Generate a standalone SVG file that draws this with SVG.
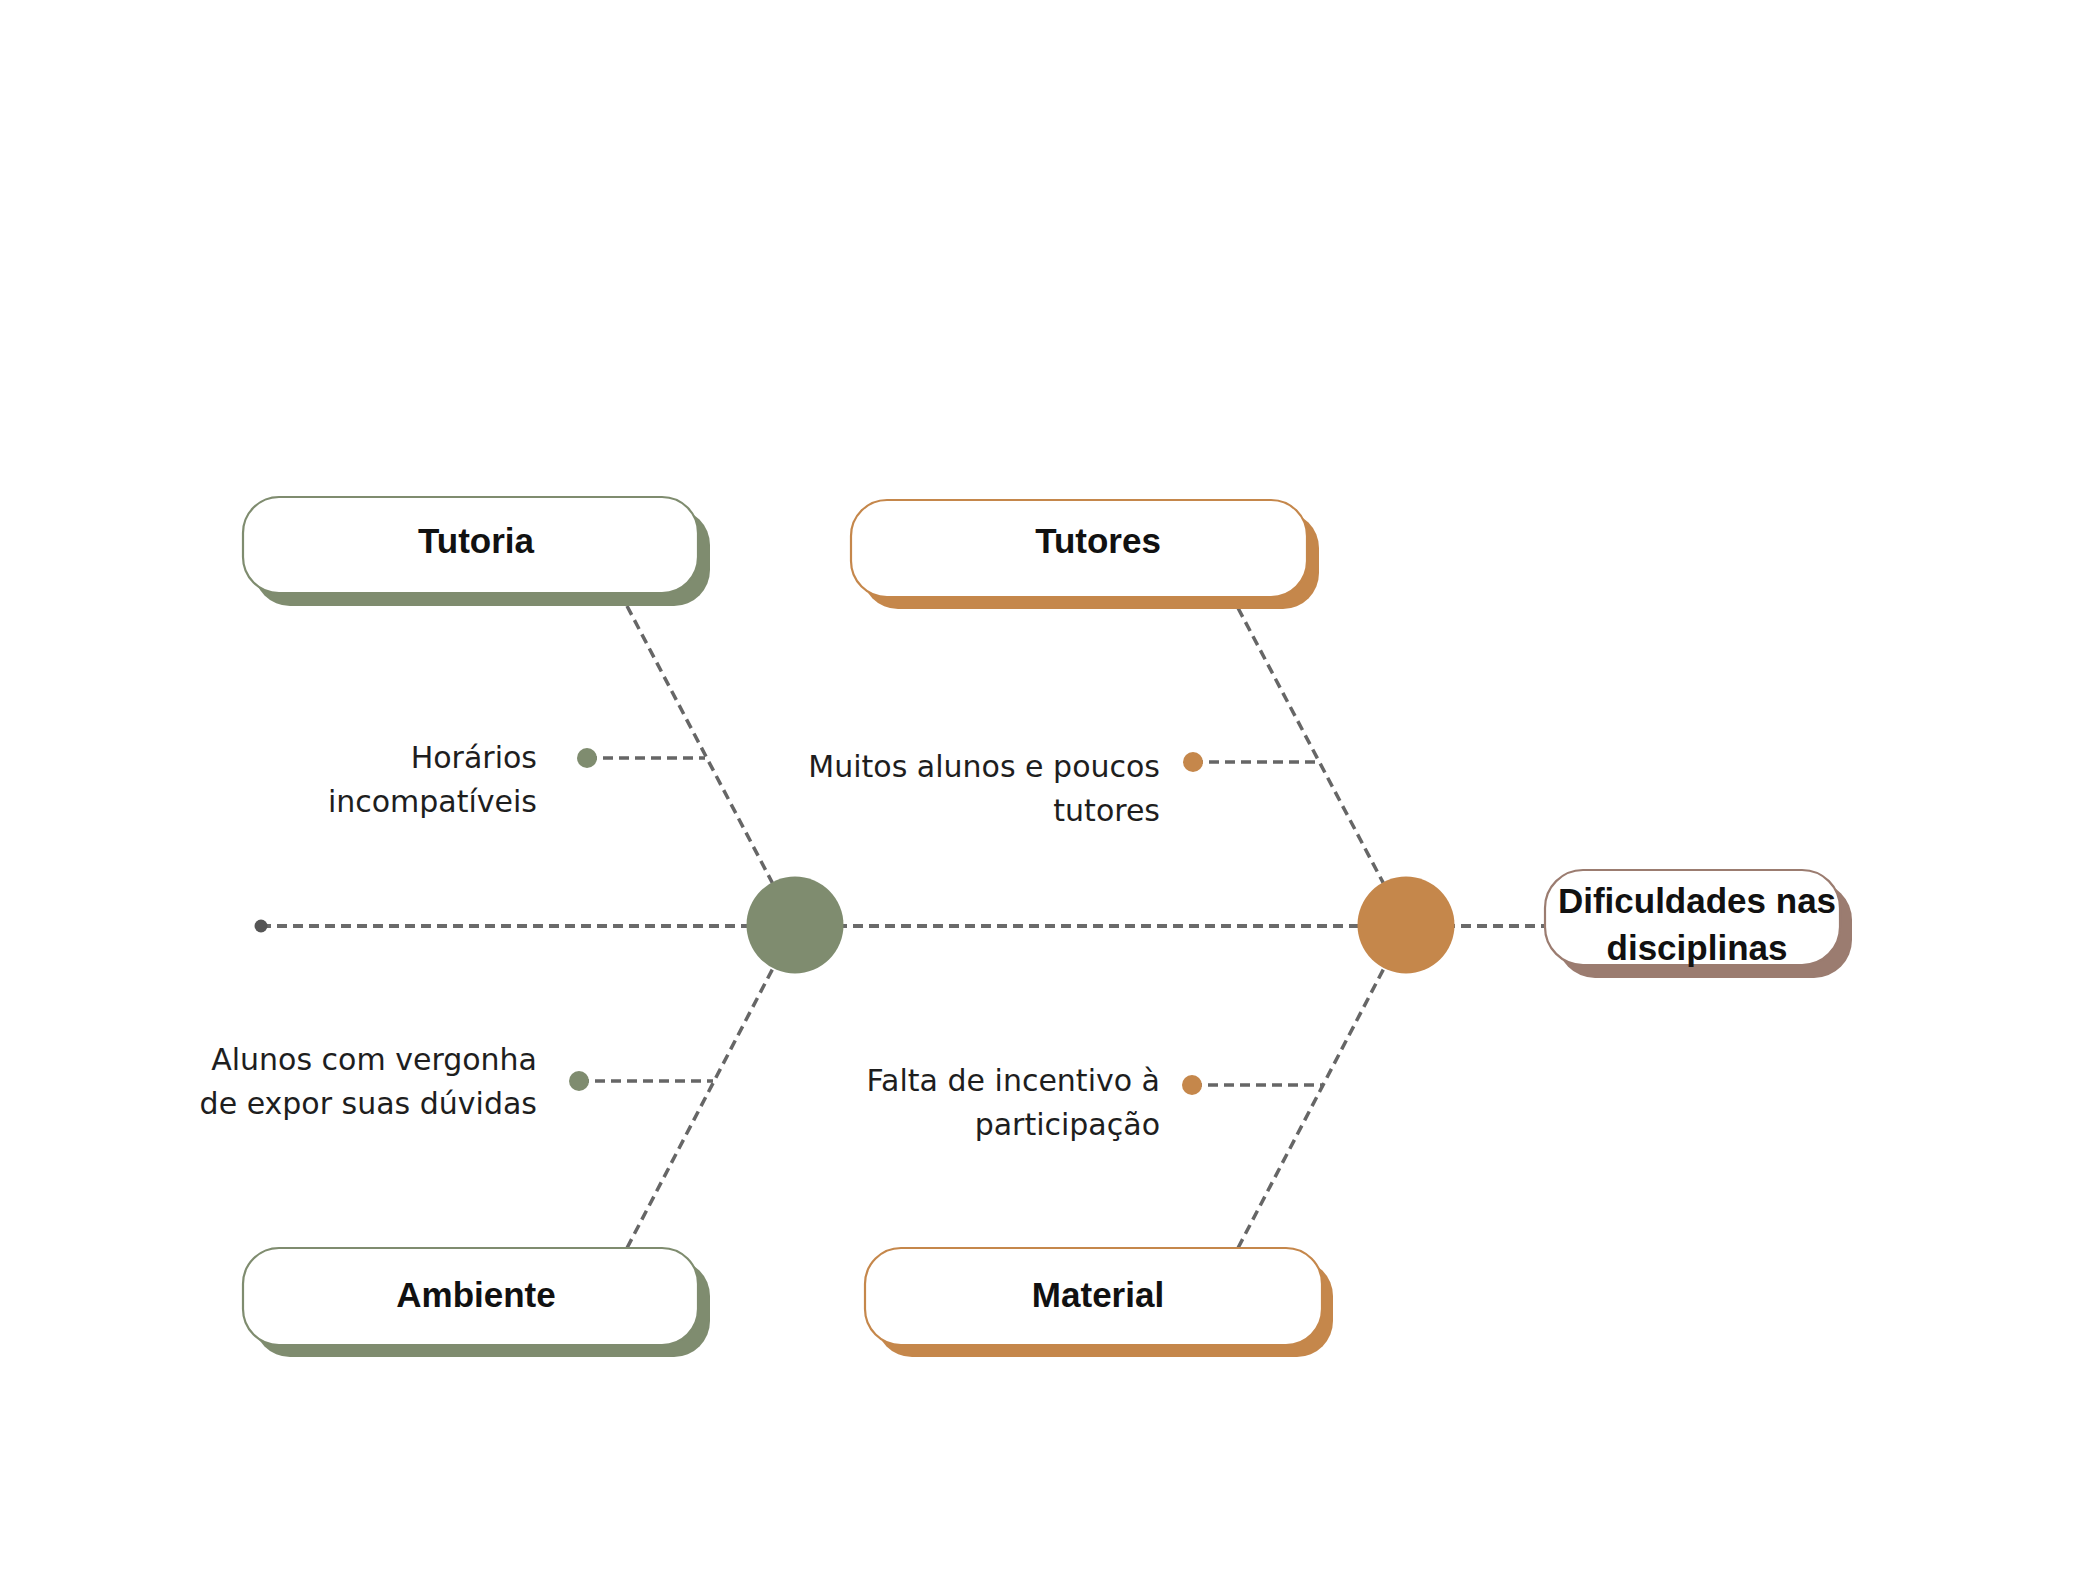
<svg xmlns="http://www.w3.org/2000/svg" width="2088" height="1576" viewBox="0 0 2088 1576">
<style>
.dash{stroke:#666666;stroke-width:3.5;stroke-dasharray:10 6;fill:none}
.spine{stroke:#6a6a6a;stroke-width:4;stroke-dasharray:10 6;fill:none}
.title{font-family:"Liberation Sans",Arial,sans-serif;font-weight:bold;font-size:35px;fill:#111;text-anchor:middle}
.lbl{font-family:"DejaVu Sans","Liberation Sans",sans-serif;font-size:30px;fill:#1e1e1e;text-anchor:end}
.box{fill:#fff;stroke-width:2.2}
.g{fill:#7f8c6f}.o{fill:#c5874b}.b{fill:#9b7c70}
.gs{stroke:#7f8c6f}.os{stroke:#c5874b}.bs{stroke:#9b7c70}
</style>
<rect width="2088" height="1576" fill="#fff"/>
<g id="connectors">
<line class="spine" x1="261" y1="926" x2="1545" y2="926"/>
<line class="dash" x1="627" y1="606" x2="795" y2="926"/>
<line class="dash" x1="627" y1="1248" x2="795" y2="926"/>
<line class="dash" x1="1238" y1="608" x2="1406" y2="926"/>
<line class="dash" x1="1238" y1="1248" x2="1406" y2="926"/>
<line class="dash" x1="587" y1="758" x2="705" y2="758"/>
<line class="dash" x1="1193" y1="762" x2="1318" y2="762"/>
<line class="dash" x1="579" y1="1081" x2="713" y2="1081"/>
<line class="dash" x1="1192" y1="1085" x2="1322" y2="1085"/>
<circle cx="261" cy="926" r="6.5" fill="#555"/>
</g>
<g id="hub-green"><circle cx="795" cy="925" r="48.5" class="g"/></g>
<g id="hub-orange"><circle cx="1406" cy="925" r="48.5" class="o"/></g>
<g id="node-tutoria">
<rect x="254" y="509" width="456" height="97" rx="36" class="g"/>
<rect x="243" y="497" width="455" height="96" rx="36" class="box gs"/>
<text x="476" y="553" class="title">Tutoria</text>
</g>
<g id="node-tutores">
<rect x="862" y="512" width="457" height="97" rx="36" class="o"/>
<rect x="851" y="500" width="456" height="97" rx="36" class="box os"/>
<text x="1098" y="553" class="title">Tutores</text>
</g>
<g id="node-ambiente">
<rect x="254" y="1260" width="456" height="97" rx="36" class="g"/>
<rect x="243" y="1248" width="455" height="97" rx="36" class="box gs"/>
<text x="476" y="1307" class="title">Ambiente</text>
</g>
<g id="node-material">
<rect x="876" y="1260" width="457" height="97" rx="36" class="o"/>
<rect x="865" y="1248" width="457" height="97" rx="36" class="box os"/>
<text x="1098" y="1307" class="title">Material</text>
</g>
<g id="node-dificuldades">
<rect x="1557" y="882" width="295" height="96" rx="38" class="b"/>
<rect x="1545" y="870" width="295" height="95" rx="38" class="box bs"/>
<text x="1697" y="913" class="title">Dificuldades nas</text>
<text x="1697" y="960" class="title">disciplinas</text>
</g>
<g id="cause-horarios">
<circle cx="587" cy="758" r="10" class="g"/>
<text x="537" y="768" class="lbl">Horários</text>
<text x="537" y="812" class="lbl">incompatíveis</text>
</g>
<g id="cause-muitos">
<circle cx="1193" cy="762" r="10" class="o"/>
<text x="1160" y="777" class="lbl">Muitos alunos e poucos</text>
<text x="1160" y="821" class="lbl">tutores</text>
</g>
<g id="cause-alunos">
<circle cx="579" cy="1081" r="10" class="g"/>
<text x="537" y="1070" class="lbl">Alunos com vergonha</text>
<text x="537" y="1114" class="lbl">de expor suas dúvidas</text>
</g>
<g id="cause-falta">
<circle cx="1192" cy="1085" r="10" class="o"/>
<text x="1160" y="1091" class="lbl">Falta de incentivo à</text>
<text x="1160" y="1135" class="lbl">participação</text>
</g>
</svg>
